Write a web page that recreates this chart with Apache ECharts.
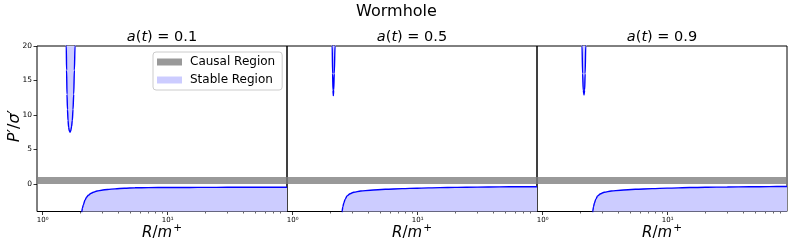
<!DOCTYPE html>
<html><head><meta charset="utf-8">
<script src="https://cdn.jsdelivr.net/npm/echarts@6/dist/echarts.min.js"></script>
<style>html,body{margin:0;padding:0;background:#fff}#c{width:793px;height:248px}</style>
</head><body><div id="c"></div>
<script>
// ---- data ----
const figTitle = 'Wormhole';
const panelValues = ['0.1', '0.5', '0.9'];
const xRange = [0.9, 90];
const yRange = [-4, 20];
const xMajorTicks = [1, 10];
const xMajorLabels = ['10⁰', '10¹'];
const xMinorTicks = [2, 3, 4, 5, 6, 7, 8, 9, 20, 30, 40, 50, 60, 70, 80];
const yTicks = [0, 5, 10, 15, 20];
const yTickLabels = ['0', '5', '10', '15', '20'];
const causalBand = [0, 1];

// a(t) = 0.1
const r1Upper = [1.52, 1.544, 1.552, 1.564, 1.578, 1.594, 1.612, 1.632, 1.654, 1.677, 1.70, 1.725, 1.747, 1.770, 1.792, 1.813, 1.84];
const p1Upper = [30, 20, 16.5, 13.0, 10.8, 9.2, 8.2, 7.7, 7.5, 7.7, 8.3, 9.2, 10.8, 13.0, 16.5, 20, 30];
const r1Lower = [2.04, 2.051, 2.08, 2.113, 2.18, 2.25, 2.317, 2.42, 2.54, 2.72, 2.965, 3.3, 3.787, 4.5, 5.475, 7, 10, 15, 20, 30, 40, 60, 90];
const p1Lower = [-8, -4, -3.5, -3.04, -2.32, -1.9, -1.64, -1.4, -1.2, -1.03, -0.91, -0.8, -0.72, -0.62, -0.56, -0.54, -0.52, -0.51, -0.50, -0.49, -0.49, -0.48, -0.48];
// a(t) = 0.5
const r2Upper = [2.04, 2.07, 2.085, 2.10, 2.113, 2.127, 2.15, 2.18, 2.22];
const p2Upper = [30, 20, 16, 13.6, 12.8, 13.6, 16, 20, 30];
const r2Lower = [2.47, 2.48, 2.52, 2.56, 2.63, 2.72, 2.88, 3.08, 3.5, 4.18, 5.5, 7.5, 9.87, 15, 20, 30, 45, 65, 90];
const p2Lower = [-8, -4, -3.3, -2.8, -2.2, -1.74, -1.42, -1.2, -1.02, -0.91, -0.78, -0.68, -0.62, -0.54, -0.50, -0.46, -0.43, -0.41, -0.40];
// a(t) = 0.9
const r3Upper = [2.03, 2.063, 2.085, 2.11, 2.14, 2.165, 2.185, 2.208, 2.25];
const p3Upper = [30, 20, 16, 13.6, 12.9, 13.6, 16, 20, 30];
const r3Lower = [2.50, 2.51, 2.55, 2.59, 2.66, 2.75, 2.91, 3.11, 3.53, 4.2, 5.5, 7.5, 9.9, 15, 20, 30, 45, 65, 90];
const p3Lower = [-8, -4, -3.3, -2.8, -2.2, -1.74, -1.42, -1.2, -1.02, -0.91, -0.78, -0.68, -0.61, -0.53, -0.49, -0.45, -0.42, -0.39, -0.37];

const uppers = [[r1Upper, p1Upper], [r2Upper, p2Upper], [r3Upper, p3Upper]];
const lowers = [[r1Lower, p1Lower], [r2Lower, p2Lower], [r3Lower, p3Lower]];

// ---- layout / style ----
const FONT = 'DejaVu Sans';
const gridLeft = [37, 287, 537];
const gridW = 250, gridTop = 46, gridH = 165.5;
const lineBlue = '#0000ff';
const fillBlue = '#ccccff';
const bandGray = 'rgba(128,128,128,0.8)';

const zip = (a, b) => a.map((v, i) => [v, b[i]]);

const grids = [], xAxes = [], yAxes = [], series = [], graphics = [];
for (let i = 0; i < 3; i++) {
  grids.push({left: gridLeft[i], top: gridTop, width: gridW, height: gridH,
    show: true, borderColor: '#000', borderWidth: 1, backgroundColor: 'transparent'});
  const baseX = {type: 'log', logBase: 10, gridIndex: i, position: 'bottom', offset: 0,
    min: xRange[0], max: xRange[1], axisLine: {show: false, onZero: false}, splitLine: {show: false}};
  xAxes.push(Object.assign({}, baseX, {
    axisTick: {show: true, customValues: xMajorTicks, length: 3.5, lineStyle: {color: '#000', width: 0.8}},
    axisLabel: {show: true, customValues: xMajorTicks, fontSize: 7, fontFamily: FONT, color: '#000', margin: 5,
      formatter: v => { let k = 0, best = Infinity; xMajorTicks.forEach((t, j) => { const d = Math.abs(Math.log10(v) - Math.log10(t)); if (d < best) { best = d; k = j; } }); return xMajorLabels[k]; }}
  }));
  xAxes.push(Object.assign({}, baseX, {
    axisTick: {show: true, customValues: xMinorTicks, length: 2, lineStyle: {color: '#000', width: 0.6}},
    axisLabel: {show: false}
  }));
  yAxes.push({type: 'value', gridIndex: i, min: yRange[0], max: yRange[1],
    axisLine: {show: false}, splitLine: {show: false},
    axisTick: {show: i === 0, customValues: yTicks, length: 3.5, lineStyle: {color: '#000', width: 0.8}},
    axisLabel: {show: i === 0, customValues: yTicks, fontSize: 7.5, fontFamily: FONT, color: '#000', margin: 5,
      formatter: v => { const k = yTicks.indexOf(v); return k >= 0 ? yTickLabels[k] : ''; }}
  });
  series.push({type: 'line', name: 'Causal Region', xAxisIndex: 2 * i, yAxisIndex: i, data: [],
    markArea: {silent: true, itemStyle: {color: bandGray, opacity: 1},
      data: [[{yAxis: causalBand[0]}, {yAxis: causalBand[1]}]]}});
  series.push({type: 'line', name: 'Stable Region', xAxisIndex: 2 * i, yAxisIndex: i,
    data: zip(uppers[i][0], uppers[i][1]), symbol: 'none', smooth: 0.3, smoothMonotone: 'x', clip: true,
    lineStyle: {color: lineBlue, width: 1.4}, itemStyle: {color: lineBlue},
    areaStyle: {origin: 'end', color: fillBlue, opacity: 1}, z: 3});
  series.push({type: 'line', name: 'Stable Region', xAxisIndex: 2 * i, yAxisIndex: i,
    data: zip(lowers[i][0], lowers[i][1]), symbol: 'none', smooth: 0.3, smoothMonotone: 'x', clip: true,
    lineStyle: {color: lineBlue, width: 1.4}, itemStyle: {color: lineBlue},
    areaStyle: {origin: 'start', color: fillBlue, opacity: 1}, z: 3});

  const cx = gridLeft[i] + gridW / 2;
  graphics.push({type: 'text', x: cx, y: 37, z: 10, style: {
    text: '{i|a}(' + '{i|t}) = ' + panelValues[i],
    rich: {i: {fontStyle: 'italic', fontSize: 14.5, fontFamily: FONT, fill: '#000'}},
    fontSize: 14.5, fontFamily: FONT, fill: '#000', align: 'center', verticalAlign: 'middle'}});
  graphics.push({type: 'text', x: cx, y: 233, z: 10, style: {
    text: '{i|R}/{i|m}{s|+}',
    rich: {i: {fontStyle: 'italic', fontSize: 15, fontFamily: FONT, fill: '#000', verticalAlign: 'middle'},
           s: {fontSize: 10.5, fontFamily: FONT, fill: '#000', padding: [0, 0, 10, 1], verticalAlign: 'middle'}},
    fontSize: 15, fontFamily: FONT, fill: '#000', align: 'center', verticalAlign: 'middle'}});
}
graphics.push({type: 'text', x: 396.5, y: 12, z: 10, style: {
  text: figTitle, fontSize: 16, fontFamily: FONT, fill: '#000', align: 'center', verticalAlign: 'middle'}});
graphics.push({type: 'text', x: 15, y: 126, rotation: Math.PI / 2, z: 10, style: {
  text: '{i|P}′/{i|σ}′',
  rich: {i: {fontStyle: 'italic', fontSize: 16, fontFamily: FONT, fill: '#000'}},
  fontSize: 16, fontFamily: FONT, fill: '#000', align: 'center', verticalAlign: 'middle'}});

const chart = echarts.init(document.getElementById('c'), null, {renderer: 'canvas'});
chart.setOption({
  animation: false,
  backgroundColor: '#fff',
  grid: grids, xAxis: xAxes, yAxis: yAxes, series: series, graphic: graphics,
  legend: {
    orient: 'vertical', left: 153, top: 52, z: 20,
    padding: [3, 7, 3, 4], itemWidth: 25, itemHeight: 7, itemGap: 4,
    selectedMode: false,
    backgroundColor: 'rgba(255,255,255,0.8)', borderColor: '#cccccc', borderWidth: 1, borderRadius: 3,
    textStyle: {fontSize: 12, fontFamily: FONT, color: '#000', lineHeight: 14, padding: [0, 0, 0, 3]},
    data: [
      {name: 'Causal Region', icon: 'rect', itemStyle: {color: '#999999', borderWidth: 0}},
      {name: 'Stable Region', icon: 'rect', itemStyle: {color: fillBlue, borderWidth: 0}}
    ]
  }
});
</script></body></html>
